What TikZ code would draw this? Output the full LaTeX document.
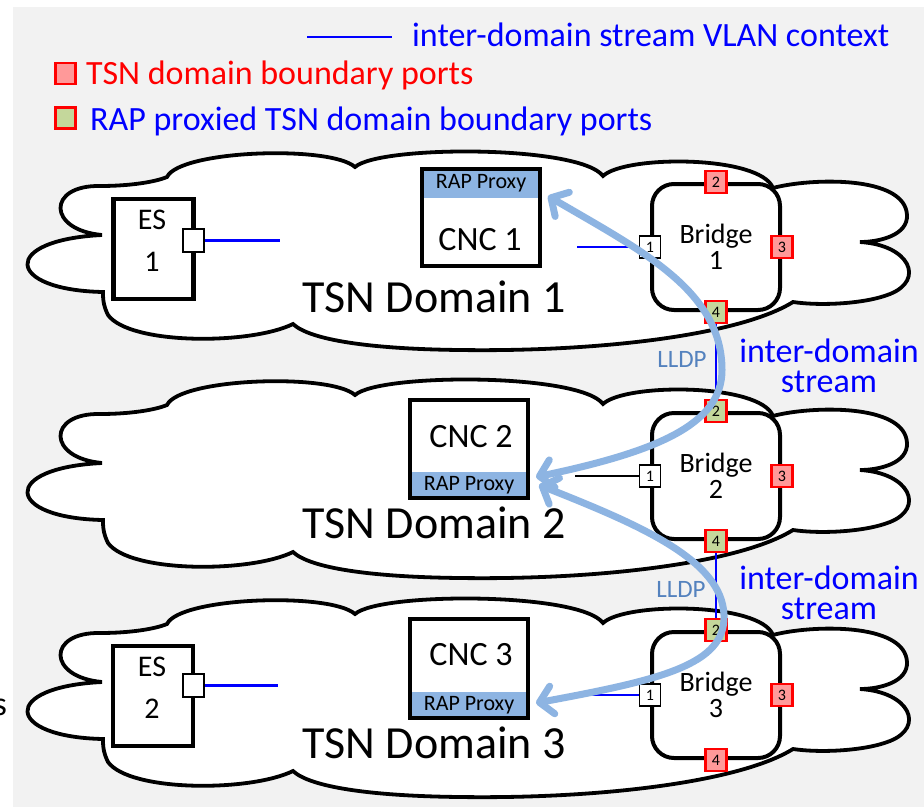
\documentclass[tikz,border=0pt]{standalone}
\usepackage{fontspec}
\setmainfont{Carlito}
\usetikzlibrary{arrows.meta}
\definecolor{bggray}{RGB}{242,242,242}
\definecolor{proxyblue}{RGB}{141,180,226}
\definecolor{pinkport}{RGB}{255,153,153}
\definecolor{greenport}{RGB}{196,215,155}
\definecolor{lldpblue}{RGB}{84,130,190}
\definecolor{arrowblue}{RGB}{141,180,226}
\begin{document}
\begin{tikzpicture}[x=1pt,y=-1pt,
  cloudline/.style={draw=black, line width=3.8pt, fill=white},
  boxline/.style={draw=black, line width=4.5pt, inner sep=0pt},
  bridgebox/.style={draw=black, line width=4pt, rounded corners=22pt, minimum width=128pt, minimum height=126pt, align=center, inner sep=0pt, font=\fontsize{28}{26}\selectfont},
  portw/.style={draw=black, line width=1.5pt, fill=white, minimum width=21pt, minimum height=22pt, inner sep=0pt, font=\fontsize{16}{16}\selectfont},
  portr/.style={portw, draw=red, line width=2.5pt, fill=pinkport},
  portg/.style={portr, fill=greenport},
  legicon/.style={draw=red, line width=2.5pt, minimum width=20pt, minimum height=21pt, inner sep=0pt},
  proxyband/.style={fill=proxyblue, inner sep=0pt, minimum width=118pt, font=\fontsize{22}{22}\selectfont},
  bigtxt/.style={inner sep=0pt, font=\fontsize{34}{40}\selectfont},
  domtxt/.style={inner sep=0pt, anchor=base, font=\fontsize{46}{50}\selectfont},
  estxt/.style={inner sep=0pt, align=center, font=\fontsize{30}{42}\selectfont},
  idstxt/.style={inner sep=0pt, align=center, text=blue, font=\fontsize{34}{30.5}\selectfont},
  lldptxt/.style={inner sep=0pt, text=lldpblue, font=\fontsize{25}{25}\selectfont},
  vlan/.style={draw=blue, line width=2.8pt},
  plainlink/.style={draw=black, line width=2pt},
  rapflow/.style={draw=arrowblue, line width=7pt, {Straight Barb[round,length=13pt,width=28pt]}-{Straight Barb[round,length=13pt,width=28pt]}}
]
\useasboundingbox (0,0) rectangle (924,807);
\fill[white] (0,0) rectangle (924,807);
\fill[bggray] (13,7) rectangle (924,807);

% clouds
\foreach \dy in {0,228,447}{
\begin{scope}[shift={(0,\dy)}]
\draw[cloudline] (102,235) .. controls (47,230) and (47,185) .. (100,186)
 .. controls (130,186) and (155,182) .. (167,177)
 .. controls (180,150) and (330,145) .. (355,167)
 .. controls (380,145) and (580,145) .. (603,176)
 .. controls (625,155) and (760,155) .. (773,188)
 .. controls (810,178) and (905,175) .. (907,215)
 .. controls (908,235) and (880,242) .. (860,242)
 .. controls (910,245) and (925,280) .. (890,294)
 .. controls (865,304) and (820,306) .. (793,302)
 .. controls (740,335) and (600,352) .. (460,350)
 .. controls (370,349) and (310,340) .. (293,324)
 .. controls (250,345) and (130,345) .. (108,315)
 .. controls (103,305) and (103,298) .. (103,292)
 .. controls (5,290) and (0,240) .. (102,235) -- cycle;
\end{scope}
}

% legend
\coordinate (legA) at (307,37);
\coordinate (legB) at (392,37);
\draw[vlan] (legA) -- (legB);
\node[bigtxt, anchor=base west, text=blue] (lg1) at (412,46) {inter-domain stream VLAN context};
\node[legicon, fill=pinkport] (ic1) at (65.5,73.5) {};
\node[bigtxt, anchor=base west, text=red] (lg2) at (86,84) {TSN domain boundary ports};
\node[legicon, fill=greenport] (ic2) at (65.5,118) {};
\node[bigtxt, anchor=base west, text=blue] (lg3) at (90,130) {RAP proxied TSN domain boundary ports};

% partial letter at left edge
\node[bigtxt, anchor=base east] (sfrag) at (7,715) {s};

% domain labels
\node[domtxt] (d1) at (434,312) {TSN Domain 1};
\node[domtxt] (d2) at (434,538) {TSN Domain 2};
\node[domtxt] (d3) at (434,758) {TSN Domain 3};

% end stations
\node[boxline, minimum width=80pt, minimum height=100pt] (es1) at (153.5,249) {};
\node[estxt] (es1t) at (152,241) {ES\\1};
\node[portw, minimum height=23pt] (es1p) at (193.5,240.5) {};
\coordinate (es1end) at (280,240.5);
\draw[vlan] (es1p) -- (es1end);

\node[boxline, minimum width=80pt, minimum height=100pt] (es2) at (153,696) {};
\node[estxt] (es2t) at (152,688) {ES\\2};
\node[portw, minimum height=23pt] (es2p) at (193.5,685.5) {};
\coordinate (es2end) at (278,685.5);
\draw[vlan] (es2p) -- (es2end);

% CNCs
\node[proxyband, minimum height=29pt] (rap1) at (481,183.5) {RAP Proxy};
\node[boxline, minimum width=118pt, minimum height=97pt] (cnc1) at (481,217.5) {};
\node[bigtxt] (cnc1t) at (480,240) {CNC 1};

\node[proxyband, minimum height=26pt] (rap2) at (469,485) {RAP Proxy};
\node[boxline, minimum width=118pt, minimum height=98pt] (cnc2) at (469,449) {};
\node[bigtxt] (cnc2t) at (471,437) {CNC 2};

\node[proxyband, minimum height=26pt] (rap3) at (469,705) {RAP Proxy};
\node[boxline, minimum width=118pt, minimum height=99pt] (cnc3) at (469,668.5) {};
\node[bigtxt] (cnc3t) at (471,655) {CNC 3};

% bridges
\node[bridgebox] (b1) at (716,247) {Bridge\\1};
\node[portw] (b1p1) at (b1.west) {1};
\node[portr] (b1p2) at (b1.north) {2};
\node[portr] (b1p3) at (b1.east) {3};
\node[portg] (b1p4) at (b1.south) {4};

\node[bridgebox] (b2) at (716,476) {Bridge\\2};
\node[portw] (b2p1) at (b2.west) {1};
\node[portg] (b2p2) at (b2.north) {2};
\node[portr] (b2p3) at (b2.east) {3};
\node[portg] (b2p4) at (b2.south) {4};

\node[bridgebox] (b3) at (716,695) {Bridge\\3};
\node[portw] (b3p1) at (b3.west) {1};
\node[portg] (b3p2) at (b3.north) {2};
\node[portr] (b3p3) at (b3.east) {3};
\node[portr] (b3p4) at (b3.south) {4};

% links
\coordinate (c1end) at (577,247);
\draw[vlan] (c1end) -- (b1p1);
\coordinate (c2end) at (575,476);
\draw[plainlink] (c2end) -- (b2p1);
\coordinate (c3end) at (580,695);
\draw[vlan] (c3end) -- (b3p1);
\draw[vlan, line width=2.2pt] (b1p4) -- (b2p2);
\draw[vlan, line width=2.2pt] (b2p4) -- (b3p2);

% labels between domains
\node[lldptxt] (ll1) at (682,359) {LLDP};
\node[lldptxt] (ll2) at (681,589) {LLDP};
\node[idstxt] (ids1) at (829,366) {inter-domain\\stream};
\node[idstxt] (ids2) at (829,593) {inter-domain\\stream};

% RAP flows
\coordinate (a1s) at (548,196);
\coordinate (a1e) at (536,477);
\coordinate (a2s) at (539,485);
\coordinate (a2e) at (536,703);
\draw[rapflow] (a1s) .. controls (640,250) and (722,290) .. (722,370) .. controls (722,425) and (655,452) .. (a1e);
\draw[rapflow] (a2s) .. controls (640,525) and (722,560) .. (724,615) .. controls (726,665) and (660,680) .. (a2e);
\end{tikzpicture}
\end{document}
